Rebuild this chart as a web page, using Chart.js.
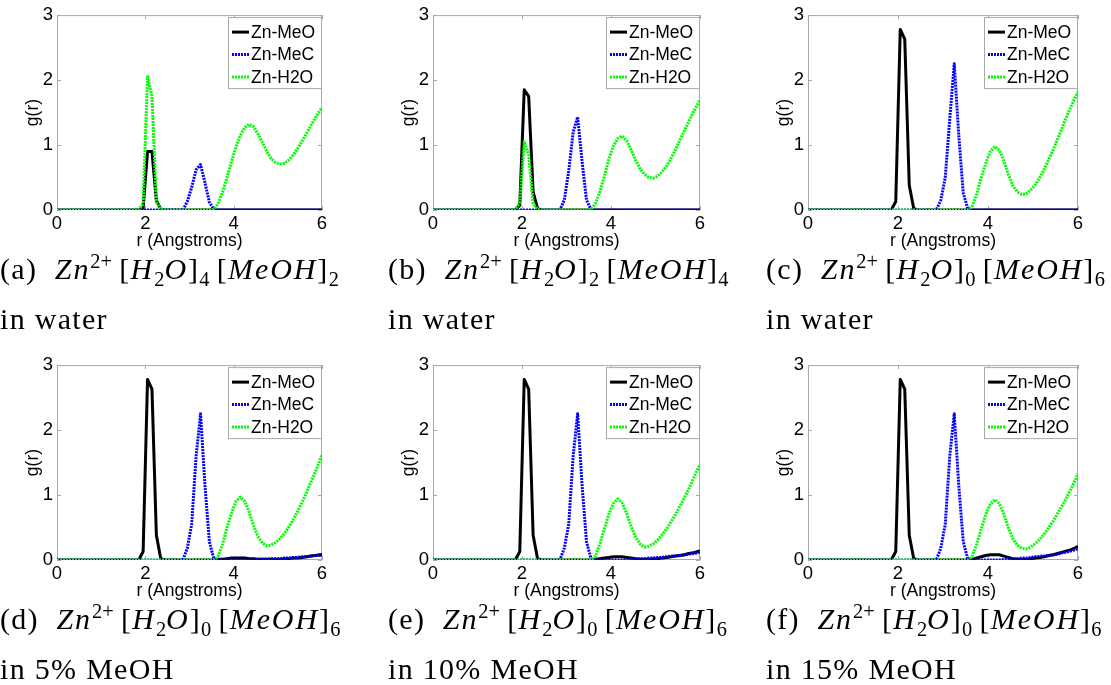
<!DOCTYPE html>
<html>
<head>
<meta charset="utf-8">
<title>Zn RDF panels</title>
<script src="https://cdn.jsdelivr.net/npm/chart.js@4.4.1/dist/chart.umd.min.js"></script>
<style>
  html, body { margin: 0; padding: 0; background: #fff; }
  body { width: 1111px; height: 685px; position: relative; overflow: hidden; }
  canvas { position: absolute; }
  .cap {
    position: absolute;
    font-family: 'Liberation Serif', 'Times New Roman', serif;
    font-size: 30px;
    line-height: 50px;
    letter-spacing: 1.3px;
    white-space: nowrap;
    color: #000;
  }
  .cap i { letter-spacing: 1.9px; }
  .cap sup, .cap sub { font-size: 0.68em; line-height: 0; letter-spacing: 0; }
</style>
</head>
<body>

<canvas id="pa"></canvas>
<canvas id="pb"></canvas>
<canvas id="pc"></canvas>
<canvas id="pd"></canvas>
<canvas id="pe"></canvas>
<canvas id="pf"></canvas>

<div class="cap" style="left:0px;top:244px">(a)&nbsp; <i>Zn</i><sup>2+</sup>&thinsp;[<i>H</i><sub>2</sub><i>O</i>]<sub>4</sub>&thinsp;[<i>MeOH</i>]<sub>2</sub><br>in water</div>
<div class="cap" style="left:388px;top:244px">(b)&nbsp; <i>Zn</i><sup>2+</sup>&thinsp;[<i>H</i><sub>2</sub><i>O</i>]<sub>2</sub>&thinsp;[<i>MeOH</i>]<sub>4</sub><br>in water</div>
<div class="cap" style="left:766px;top:244px">(c)&nbsp; <i>Zn</i><sup>2+</sup>&thinsp;[<i>H</i><sub>2</sub><i>O</i>]<sub>0</sub>&thinsp;[<i>MeOH</i>]<sub>6</sub><br>in water</div>
<div class="cap" style="left:0px;top:594px">(d)&nbsp; <i>Zn</i><sup>2+</sup>&thinsp;[<i>H</i><sub>2</sub><i>O</i>]<sub>0</sub>&thinsp;[<i>MeOH</i>]<sub>6</sub><br>in 5% MeOH</div>
<div class="cap" style="left:388px;top:594px">(e)&nbsp; <i>Zn</i><sup>2+</sup>&thinsp;[<i>H</i><sub>2</sub><i>O</i>]<sub>0</sub>&thinsp;[<i>MeOH</i>]<sub>6</sub><br>in 10% MeOH</div>
<div class="cap" style="left:766px;top:594px">(f)&nbsp; <i>Zn</i><sup>2+</sup>&thinsp;[<i>H</i><sub>2</sub><i>O</i>]<sub>0</sub>&thinsp;[<i>MeOH</i>]<sub>6</sub><br>in 15% MeOH</div>

<script>
// r grid (Angstroms), shared by every curve
const r = [0, 0.05, 0.15, 0.25, 0.35, 0.45, 0.55, 0.65, 0.75, 0.85,
  0.95, 1.05, 1.15, 1.25, 1.35, 1.45, 1.55, 1.65, 1.75, 1.85,
  1.95, 2.05, 2.15, 2.25, 2.35, 2.45, 2.55, 2.65, 2.75, 2.85,
  2.95, 3.05, 3.15, 3.25, 3.35, 3.45, 3.55, 3.65, 3.75, 3.85,
  3.95, 4.05, 4.15, 4.25, 4.35, 4.45, 4.55, 4.65, 4.75, 4.85,
  4.95, 5.05, 5.15, 5.25, 5.35, 5.45, 5.55, 5.65, 5.75, 5.85,
  5.95, 6];

const seriesNames = ['Zn-MeO', 'Zn-MeC', 'Zn-H2O'];

// (a) [H2O]4 [MeOH]2 in water
const meoA = [0, 0, 0, 0, 0, 0, 0, 0, 0, 0,
  0, 0, 0, 0, 0, 0, 0, 0, 0, 0,
  0.03, 0.9, 0.9, 0.15, 0.01, 0, 0, 0, 0, 0,
  0, 0, 0, 0, 0, 0, 0, 0, 0, 0,
  0, 0, 0, 0, 0, 0, 0, 0, 0, 0,
  0, 0, 0, 0, 0, 0, 0, 0, 0, 0,
  0, 0];
const mecA = [0, 0, 0, 0, 0, 0, 0, 0, 0, 0,
  0, 0, 0, 0, 0, 0, 0, 0, 0, 0,
  0, 0, 0, 0, 0, 0, 0, 0, 0, 0,
  0.13, 0.35, 0.62, 0.7, 0.42, 0.12, 0.01, 0, 0, 0,
  0, 0, 0, 0, 0, 0, 0, 0, 0, 0,
  0, 0, 0, 0, 0, 0, 0, 0, 0, 0,
  0, 0];
const h2oA = [0, 0, 0, 0, 0, 0, 0, 0, 0, 0,
  0, 0, 0, 0, 0, 0, 0, 0, 0, 0,
  0.1, 2.05, 1.75, 0.12, 0.01, 0, 0, 0, 0, 0,
  0, 0, 0, 0, 0, 0, 0.01, 0.1, 0.28, 0.5,
  0.75, 0.97, 1.15, 1.27, 1.32, 1.28, 1.17, 1.04, 0.9, 0.79,
  0.73, 0.71, 0.72, 0.77, 0.85, 0.95, 1.06, 1.18, 1.3, 1.42,
  1.53, 1.57];

// (b) [H2O]2 [MeOH]4 in water
const meoB = [0, 0, 0, 0, 0, 0, 0, 0, 0, 0,
  0, 0, 0, 0, 0, 0, 0, 0, 0, 0,
  0.07, 1.85, 1.75, 0.28, 0.02, 0, 0, 0, 0, 0,
  0, 0, 0, 0, 0, 0, 0, 0, 0, 0,
  0, 0, 0, 0, 0, 0, 0, 0, 0, 0,
  0, 0, 0, 0, 0, 0, 0, 0, 0, 0,
  0, 0];
const mecB = [0, 0, 0, 0, 0, 0, 0, 0, 0, 0,
  0, 0, 0, 0, 0, 0, 0, 0, 0, 0,
  0, 0, 0, 0, 0, 0, 0, 0, 0, 0,
  0.15, 0.6, 1.2, 1.43, 0.75, 0.15, 0.01, 0, 0, 0,
  0, 0, 0, 0, 0, 0, 0, 0, 0, 0,
  0, 0, 0, 0, 0, 0, 0, 0, 0, 0,
  0, 0];
const h2oB = [0, 0, 0, 0, 0, 0, 0, 0, 0, 0,
  0, 0, 0, 0, 0, 0, 0, 0, 0, 0,
  0.12, 1.05, 0.85, 0.1, 0.01, 0, 0, 0, 0, 0,
  0, 0, 0, 0, 0, 0, 0.01, 0.1, 0.28, 0.52,
  0.78, 0.98, 1.1, 1.14, 1.07, 0.93, 0.77, 0.64, 0.55, 0.5,
  0.49, 0.52, 0.59, 0.68, 0.8, 0.93, 1.08, 1.22, 1.37, 1.51,
  1.63, 1.69];

// (c) [H2O]0 [MeOH]6 in water
const meoC = [0, 0, 0, 0, 0, 0, 0, 0, 0, 0,
  0, 0, 0, 0, 0, 0, 0, 0, 0, 0,
  0.13, 2.78, 2.63, 0.38, 0.02, 0, 0, 0, 0, 0,
  0, 0, 0, 0, 0, 0, 0, 0, 0, 0,
  0, 0, 0, 0, 0, 0, 0, 0, 0, 0,
  0, 0, 0, 0, 0, 0, 0, 0, 0, 0,
  0, 0];
const mecC = [0, 0, 0, 0, 0, 0, 0, 0, 0, 0,
  0, 0, 0, 0, 0, 0, 0, 0, 0, 0,
  0, 0, 0, 0, 0, 0, 0, 0, 0, 0,
  0.15, 0.5, 1.4, 2.25, 1.15, 0.26, 0.02, 0, 0, 0,
  0, 0, 0, 0, 0, 0, 0, 0, 0, 0,
  0, 0, 0, 0, 0, 0, 0, 0, 0, 0,
  0, 0];
const h2oC = [0, 0, 0, 0, 0, 0, 0, 0, 0, 0,
  0, 0, 0, 0, 0, 0, 0, 0, 0, 0,
  0, 0, 0, 0, 0, 0, 0, 0, 0, 0,
  0, 0, 0, 0, 0, 0, 0, 0.06, 0.25, 0.5,
  0.72, 0.9, 0.98, 0.92, 0.76, 0.55, 0.38, 0.28, 0.24, 0.25,
  0.31, 0.39, 0.5, 0.63, 0.78, 0.93, 1.1, 1.27, 1.44, 1.6,
  1.75, 1.82];

// (d) [H2O]0 [MeOH]6 in 5% MeOH
const meoD = [0, 0, 0, 0, 0, 0, 0, 0, 0, 0,
  0, 0, 0, 0, 0, 0, 0, 0, 0, 0,
  0.13, 2.78, 2.63, 0.38, 0.02, 0, 0, 0, 0, 0,
  0, 0, 0, 0, 0, 0, 0, 0.01, 0.01, 0.02,
  0.03, 0.03, 0.03, 0.03, 0.02, 0.02, 0.01, 0.01, 0.01, 0.01,
  0.01, 0.01, 0.02, 0.02, 0.03, 0.03, 0.04, 0.05, 0.06, 0.07,
  0.08, 0.08];
const mecD = [0, 0, 0, 0, 0, 0, 0, 0, 0, 0,
  0, 0, 0, 0, 0, 0, 0, 0, 0, 0,
  0, 0, 0, 0, 0, 0, 0, 0, 0, 0,
  0.18, 0.55, 1.6, 2.25, 1.15, 0.28, 0.02, 0, 0, 0,
  0, 0, 0, 0, 0, 0, 0.01, 0.01, 0.01, 0.02,
  0.02, 0.02, 0.03, 0.03, 0.04, 0.04, 0.05, 0.05, 0.06, 0.07,
  0.07, 0.08];
const h2oD = [0, 0, 0, 0, 0, 0, 0, 0, 0, 0,
  0, 0, 0, 0, 0, 0, 0, 0, 0, 0,
  0, 0, 0, 0, 0, 0, 0, 0, 0, 0,
  0, 0, 0, 0, 0, 0, 0, 0.06, 0.25, 0.5,
  0.72, 0.9, 0.97, 0.9, 0.74, 0.53, 0.36, 0.26, 0.22, 0.23,
  0.27, 0.33, 0.41, 0.51, 0.62, 0.75, 0.89, 1.04, 1.2, 1.36,
  1.53, 1.62];

// (e) [H2O]0 [MeOH]6 in 10% MeOH
const meoE = [0, 0, 0, 0, 0, 0, 0, 0, 0, 0,
  0, 0, 0, 0, 0, 0, 0, 0, 0, 0,
  0.13, 2.78, 2.63, 0.38, 0.02, 0, 0, 0, 0, 0,
  0, 0, 0, 0, 0, 0, 0, 0.01, 0.02, 0.03,
  0.04, 0.05, 0.05, 0.05, 0.04, 0.03, 0.02, 0.01, 0.01, 0.01,
  0.02, 0.02, 0.03, 0.04, 0.05, 0.06, 0.07, 0.08, 0.1, 0.11,
  0.13, 0.14];
const mecE = [0, 0, 0, 0, 0, 0, 0, 0, 0, 0,
  0, 0, 0, 0, 0, 0, 0, 0, 0, 0,
  0, 0, 0, 0, 0, 0, 0, 0, 0, 0,
  0.18, 0.55, 1.6, 2.25, 1.15, 0.28, 0.02, 0, 0, 0,
  0, 0, 0, 0, 0, 0.01, 0.01, 0.02, 0.02, 0.03,
  0.03, 0.04, 0.04, 0.05, 0.06, 0.06, 0.07, 0.08, 0.09, 0.1,
  0.11, 0.12];
const h2oE = [0, 0, 0, 0, 0, 0, 0, 0, 0, 0,
  0, 0, 0, 0, 0, 0, 0, 0, 0, 0,
  0, 0, 0, 0, 0, 0, 0, 0, 0, 0,
  0, 0, 0, 0, 0, 0, 0, 0.06, 0.25, 0.48,
  0.7, 0.87, 0.94, 0.88, 0.72, 0.52, 0.35, 0.25, 0.2, 0.21,
  0.25, 0.31, 0.39, 0.48, 0.59, 0.7, 0.83, 0.96, 1.1, 1.25,
  1.4, 1.47];

// (f) [H2O]0 [MeOH]6 in 15% MeOH
const meoF = [0, 0, 0, 0, 0, 0, 0, 0, 0, 0,
  0, 0, 0, 0, 0, 0, 0, 0, 0, 0,
  0.13, 2.78, 2.63, 0.38, 0.02, 0, 0, 0, 0, 0,
  0, 0, 0, 0, 0, 0, 0, 0.01, 0.03, 0.05,
  0.07, 0.08, 0.08, 0.08, 0.06, 0.04, 0.02, 0.01, 0.01, 0.01,
  0.02, 0.03, 0.04, 0.05, 0.07, 0.08, 0.1, 0.12, 0.14, 0.16,
  0.19, 0.21];
const mecF = [0, 0, 0, 0, 0, 0, 0, 0, 0, 0,
  0, 0, 0, 0, 0, 0, 0, 0, 0, 0,
  0, 0, 0, 0, 0, 0, 0, 0, 0, 0,
  0.18, 0.55, 1.6, 2.25, 1.15, 0.28, 0.02, 0, 0, 0,
  0, 0, 0, 0, 0.01, 0.01, 0.02, 0.02, 0.03, 0.03,
  0.04, 0.05, 0.06, 0.06, 0.07, 0.08, 0.09, 0.11, 0.12, 0.14,
  0.16, 0.17];
const h2oF = [0, 0, 0, 0, 0, 0, 0, 0, 0, 0,
  0, 0, 0, 0, 0, 0, 0, 0, 0, 0,
  0, 0, 0, 0, 0, 0, 0, 0, 0, 0,
  0, 0, 0, 0, 0, 0, 0, 0.06, 0.25, 0.48,
  0.7, 0.86, 0.93, 0.87, 0.71, 0.5, 0.33, 0.23, 0.18, 0.17,
  0.2, 0.25, 0.32, 0.4, 0.5, 0.6, 0.72, 0.84, 0.97, 1.1,
  1.25, 1.33];

// look of the three curves (MATLAB style: solid black, dotted blue / green)
const lineColors = ['#000000', '#0000ff', '#00ff00'];
const lineDashes = [[], [2, 1], [2, 1]];
const axisGray = '#a9a9a9';
const sans = "'Liberation Sans', Arial, Helvetica, sans-serif";

// where each plot box sits on the page
const Y_AXIS_W = 57;
const PAD_T = 15;
const PAD_R = 20;
const X_AXIS_H = 45;
const panels = [
  { id: 'pa', series: [meoA, mecA, h2oA], left: 57, right: 322, top: 15 },
  { id: 'pb', series: [meoB, mecB, h2oB], left: 433, right: 700, top: 15 },
  { id: 'pc', series: [meoC, mecC, h2oC], left: 808, right: 1078, top: 15 },
  { id: 'pd', series: [meoD, mecD, h2oD], left: 57, right: 322, top: 365 },
  { id: 'pe', series: [meoE, mecE, h2oE], left: 433, right: 700, top: 365 },
  { id: 'pf', series: [meoF, mecF, h2oF], left: 808, right: 1078, top: 365 }
];

/**
 * Gray axes box with inward ticks on all four sides
 */
const boxPlugin = {
  id: 'matlabBox',
  beforeDatasetsDraw(chart) {
    const { ctx, chartArea: a, scales: { x, y } } = chart;
    ctx.save();
    ctx.strokeStyle = axisGray;
    ctx.lineWidth = 1;
    ctx.strokeRect(a.left + 0.5, a.top + 0.5, a.right - a.left - 1, a.bottom - a.top - 1);
    ctx.beginPath();
    x.ticks.forEach(t => {
      const px = Math.round(x.getPixelForValue(t.value)) + 0.5;
      ctx.moveTo(px, a.bottom); ctx.lineTo(px, a.bottom - 4);
      ctx.moveTo(px, a.top); ctx.lineTo(px, a.top + 4);
    });
    y.ticks.forEach(t => {
      const py = Math.round(y.getPixelForValue(t.value)) + 0.5;
      ctx.moveTo(a.left, py); ctx.lineTo(a.left + 4, py);
      ctx.moveTo(a.right, py); ctx.lineTo(a.right - 4, py);
    });
    ctx.stroke();
    ctx.restore();
  }
};

/**
 * Legend box in the upper right corner of the plot area
 */
const legendPlugin = {
  id: 'cornerLegend',
  afterDatasetsDraw(chart) {
    const { ctx, chartArea: a } = chart;
    const bx = a.right - 94, by = a.top + 2, bw = 93, bh = 71;
    ctx.save();
    ctx.fillStyle = '#fff';
    ctx.fillRect(bx, by, bw, bh);
    ctx.strokeStyle = axisGray;
    ctx.lineWidth = 1;
    ctx.strokeRect(bx + 0.5, by + 0.5, bw, bh);
    ctx.font = '17.5px ' + sans;
    ctx.textBaseline = 'middle';
    chart.data.datasets.forEach((ds, i) => {
      const cy = by + 15 + i * 22.5;
      ctx.beginPath();
      ctx.strokeStyle = ds.borderColor;
      ctx.lineWidth = 3;
      ctx.setLineDash(ds.borderDash);
      ctx.moveTo(bx + 4, cy);
      ctx.lineTo(bx + 21, cy);
      ctx.stroke();
      ctx.setLineDash([]);
      ctx.fillStyle = '#000';
      ctx.fillText(ds.label, bx + 23, cy + 1);
    });
    ctx.restore();
  }
};

/**
 * Build one g(r) panel
 */
function makePanel(p) {
  const canvas = document.getElementById(p.id);
  const w = p.right - p.left + Y_AXIS_W + PAD_R;
  const h = PAD_T + 195 + X_AXIS_H;
  canvas.width = w;
  canvas.height = h;
  canvas.style.left = (p.left - Y_AXIS_W) + 'px';
  canvas.style.top = (p.top - PAD_T) + 'px';

  return new Chart(canvas, {
    type: 'line',
    data: {
      datasets: p.series.map((vals, i) => ({
        label: seriesNames[i],
        data: r.map((x, k) => ({ x: x, y: vals[k] })),
        borderColor: lineColors[i],
        borderWidth: 3,
        borderDash: lineDashes[i],
        borderJoinStyle: 'round',
        pointRadius: 0,
        tension: 0,
        fill: false,
        order: 3 - i
      }))
    },
    options: {
      responsive: false,
      animation: false,
      devicePixelRatio: 1,
      layout: { padding: { top: PAD_T, right: PAD_R, left: 0, bottom: 0 } },
      plugins: { legend: { display: false }, tooltip: { enabled: false } },
      scales: {
        x: {
          type: 'linear',
          min: 0,
          max: 6,
          ticks: { stepSize: 2, color: '#000', padding: 3, maxRotation: 0, font: { family: sans, size: 18.5 } },
          grid: { display: false, drawTicks: false },
          border: { display: false },
          title: { display: true, text: 'r (Angstroms)', color: '#000', font: { family: sans, size: 17.5 }, padding: { top: 0, bottom: 3 } },
          afterFit(scale) { scale.height = X_AXIS_H; }
        },
        y: {
          min: 0,
          max: 3,
          ticks: { stepSize: 1, color: '#000', padding: 4, font: { family: sans, size: 18.5 } },
          grid: { display: false, drawTicks: false },
          border: { display: false },
          title: { display: true, text: 'g(r)', color: '#000', font: { family: sans, size: 17.5 }, padding: { top: 23, bottom: 0 } },
          afterFit(scale) { scale.width = Y_AXIS_W; }
        }
      }
    },
    plugins: [boxPlugin, legendPlugin]
  });
}

panels.forEach(makePanel);
</script>
</body>
</html>
